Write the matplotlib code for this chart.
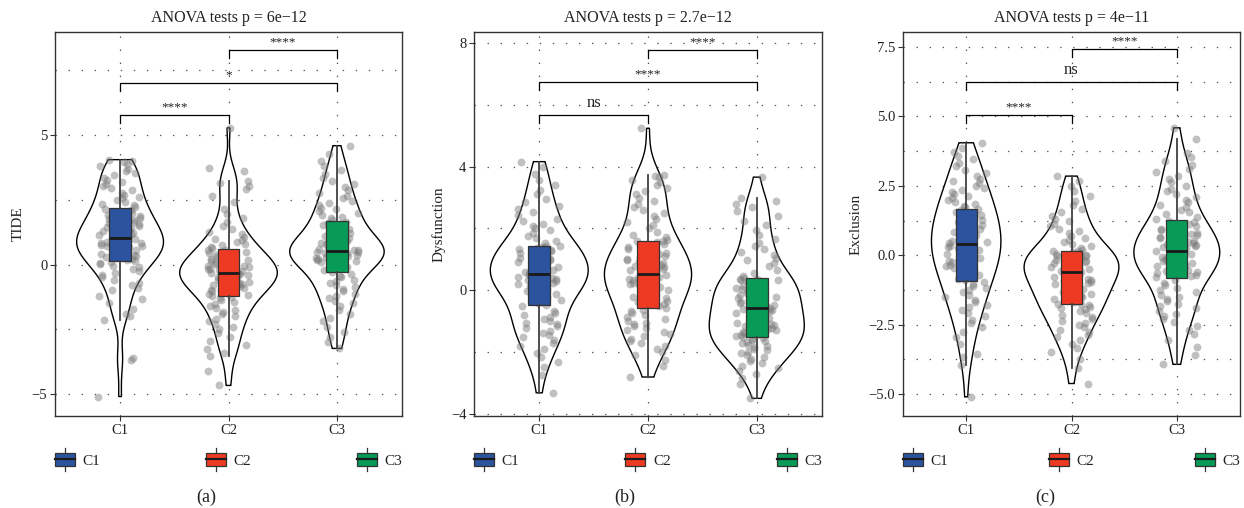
import numpy as np
import matplotlib
matplotlib.use("Agg")
import matplotlib.pyplot as plt
from matplotlib.patches import Rectangle, Patch
from matplotlib.lines import Line2D
from matplotlib.legend_handler import HandlerBase
from matplotlib.ticker import MultipleLocator, FuncFormatter
from matplotlib import cbook

plt.rcParams['font.family'] = ['Liberation Serif', 'DejaVu Serif']
plt.rcParams['lines.scale_dashes'] = False

groups = ["C1", "C2", "C3"]
colors = ["#2C539E", "#EE3A23", "#079B57"]

# ---- TIDE score per cluster ----
tide_c1 = [-5.1, -3.7, -3.6, -2.16, -2.0, -1.9, -1.7, -1.5, -1.35, -1.2,
           -1.0, -0.9, -0.8, -0.7, -0.6, -0.5, -0.42, -0.33, -0.25, -0.18,
           -0.1, -0.04, 0.02, 0.07, 0.1, 0.14, 0.18, 0.23, 0.28, 0.33,
           0.37, 0.41, 0.45, 0.49, 0.53, 0.57, 0.6, 0.63, 0.67, 0.7,
           0.73, 0.76, 0.79, 0.82, 0.85, 0.88, 0.91, 0.94, 0.97, 1.0,
           1.03, 1.07, 1.11, 1.15, 1.19, 1.23, 1.28, 1.32, 1.36, 1.4,
           1.45, 1.5, 1.55, 1.6, 1.65, 1.69, 1.73, 1.77, 1.81, 1.86,
           1.92, 1.98, 2.04, 2.1, 2.16, 2.22, 2.28, 2.35, 2.42, 2.48,
           2.55, 2.62, 2.7, 2.78, 2.86, 2.94, 3.02, 3.1, 3.18, 3.26,
           3.35, 3.45, 3.55, 3.62, 3.7, 3.8, 3.88, 3.95, 4.0, 4.05]
tide_c2 = [-4.67, -4.13, -3.55, -3.4, -3.25, -3.1, -2.95, -2.8, -2.65, -2.5,
           -2.4, -2.3, -2.2, -2.1, -2.0, -1.92, -1.84, -1.76, -1.68, -1.6,
           -1.52, -1.45, -1.38, -1.31, -1.25, -1.2, -1.16, -1.12, -1.07, -1.02,
           -0.98, -0.94, -0.9, -0.86, -0.82, -0.78, -0.74, -0.7, -0.66, -0.62,
           -0.59, -0.56, -0.53, -0.5, -0.47, -0.44, -0.41, -0.38, -0.35, -0.33,
           -0.31, -0.28, -0.25, -0.22, -0.19, -0.16, -0.13, -0.1, -0.07, -0.04,
           -0.01, 0.02, 0.05, 0.09, 0.13, 0.17, 0.21, 0.25, 0.3, 0.35,
           0.4, 0.45, 0.5, 0.55, 0.58, 0.62, 0.68, 0.74, 0.8, 0.86,
           0.93, 1.0, 1.08, 1.17, 1.27, 1.38, 1.5, 1.63, 1.78, 1.95,
           2.15, 2.4, 2.65, 2.9, 3.05, 3.15, 3.24, 3.6, 3.72, 5.28]
tide_c3 = [-3.24, -3.0, -2.8, -2.6, -2.4, -2.2, -2.05, -1.9, -1.75, -1.62,
           -1.5, -1.4, -1.3, -1.2, -1.12, -1.04, -0.96, -0.88, -0.8, -0.72,
           -0.65, -0.58, -0.5, -0.43, -0.36, -0.29, -0.23, -0.17, -0.11, -0.05,
           0.0, 0.04, 0.08, 0.12, 0.16, 0.2, 0.23, 0.26, 0.29, 0.32,
           0.34, 0.36, 0.38, 0.4, 0.42, 0.44, 0.46, 0.48, 0.5, 0.52,
           0.55, 0.58, 0.61, 0.64, 0.67, 0.7, 0.74, 0.78, 0.82, 0.86,
           0.9, 0.94, 0.98, 1.02, 1.06, 1.1, 1.15, 1.2, 1.26, 1.32,
           1.39, 1.46, 1.53, 1.6, 1.66, 1.72, 1.78, 1.85, 1.92, 1.99,
           2.06, 2.13, 2.2, 2.28, 2.36, 2.45, 2.55, 2.65, 2.75, 2.87,
           2.98, 3.1, 3.22, 3.35, 3.5, 3.65, 3.8, 3.98, 4.25, 4.59]

# ---- T cell dysfunction score per cluster ----
dysf_c1 = [-3.31, -2.72, -2.48, -2.3, -2.15, -2.02, -1.9, -1.79, -1.69, -1.6,
           -1.52, -1.44, -1.37, -1.3, -1.23, -1.16, -1.1, -1.04, -0.98, -0.92,
           -0.86, -0.8, -0.74, -0.68, -0.52, -0.46, -0.41, -0.36, -0.31, -0.22,
           -0.18, -0.13, -0.08, -0.03, 0.01, 0.05, 0.09, 0.13, 0.17, 0.21,
           0.25, 0.29, 0.33, 0.37, 0.4, 0.43, 0.46, 0.49, 0.51, 0.53,
           0.56, 0.59, 0.62, 0.66, 0.7, 0.73, 0.77, 0.81, 0.85, 0.89,
           0.93, 0.97, 1.01, 1.05, 1.09, 1.13, 1.17, 1.22, 1.27, 1.32,
           1.34, 1.36, 1.38, 1.4, 1.42, 1.45, 1.52, 1.6, 1.68, 1.76,
           1.87, 1.94, 2.01, 2.08, 2.16, 2.24, 2.32, 2.42, 2.52, 2.62,
           2.72, 2.84, 2.96, 3.1, 3.25, 3.4, 3.58, 3.75, 4.0, 4.16]
dysf_c2 = [-2.8, -2.45, -2.25, -2.1, -1.98, -1.88, -1.79, -1.71, -1.63, -1.56,
           -1.49, -1.42, -1.36, -1.29, -1.22, -1.16, -1.1, -1.04, -0.98, -0.92,
           -0.86, -0.8, -0.74, -0.68, -0.62, -0.56, -0.5, -0.44, -0.38, -0.33,
           -0.25, -0.2, -0.15, -0.1, -0.05, 0.0, 0.04, 0.08, 0.12, 0.16,
           0.2, 0.24, 0.28, 0.32, 0.36, 0.4, 0.43, 0.46, 0.49, 0.51,
           0.54, 0.58, 0.62, 0.66, 0.7, 0.74, 0.78, 0.82, 0.86, 0.9,
           0.94, 0.98, 1.02, 1.07, 1.12, 1.17, 1.22, 1.28, 1.34, 1.4,
           1.46, 1.51, 1.55, 1.58, 1.6, 1.64, 1.72, 1.8, 1.9, 2.0,
           2.1, 2.2, 2.3, 2.4, 2.5, 2.6, 2.7, 2.8, 2.9, 3.0,
           3.1, 3.2, 3.3, 3.4, 3.5, 3.58, 3.65, 3.7, 3.74, 5.24]
dysf_c3 = [-3.49, -3.02, -2.84, -2.71, -2.6, -2.51, -2.43, -2.35, -2.28, -2.21,
           -2.15, -2.09, -2.04, -1.99, -1.94, -1.89, -1.84, -1.79, -1.75, -1.71,
           -1.67, -1.63, -1.59, -1.56, -1.53, -1.5, -1.47, -1.44, -1.41, -1.38,
           -1.35, -1.32, -1.28, -1.24, -1.2, -1.16, -1.12, -1.08, -1.04, -1.0,
           -0.96, -0.92, -0.88, -0.84, -0.8, -0.76, -0.72, -0.68, -0.63, -0.6,
           -0.56, -0.52, -0.48, -0.44, -0.4, -0.36, -0.31, -0.26, -0.21, -0.16,
           -0.13, -0.09, -0.05, -0.01, 0.03, 0.08, 0.13, 0.18, 0.23, 0.27,
           0.3, 0.33, 0.35, 0.37, 0.38, 0.4, 0.48, 0.57, 0.67, 0.78,
           0.9, 0.98, 1.06, 1.15, 1.24, 1.33, 1.43, 1.54, 1.66, 1.8,
           1.95, 2.1, 2.25, 2.4, 2.55, 2.68, 2.8, 2.9, 2.99, 3.66]

# ---- T cell exclusion score per cluster ----
excl_c1 = [-5.1, -3.96, -3.65, -3.57, -3.2, -2.95, -2.75, -2.6, -2.45, -2.32,
           -2.2, -2.09, -1.98, -1.88, -1.78, -1.69, -1.6, -1.51, -1.42, -1.33,
           -1.25, -1.18, -1.11, -1.04, -0.97, -0.9, -0.84, -0.78, -0.71, -0.64,
           -0.58, -0.52, -0.46, -0.4, -0.34, -0.29, -0.24, -0.19, -0.14, -0.09,
           -0.04, 0.01, 0.06, 0.11, 0.16, 0.2, 0.25, 0.3, 0.35, 0.39,
           0.43, 0.48, 0.53, 0.58, 0.63, 0.68, 0.73, 0.78, 0.83, 0.88,
           0.93, 0.98, 1.03, 1.08, 1.13, 1.18, 1.23, 1.28, 1.34, 1.4,
           1.45, 1.51, 1.57, 1.62, 1.67, 1.72, 1.79, 1.86, 1.93, 2.0,
           2.07, 2.14, 2.21, 2.28, 2.35, 2.43, 2.51, 2.59, 2.67, 2.75,
           2.86, 2.97, 3.08, 3.2, 3.32, 3.45, 3.58, 3.72, 3.88, 4.05]
excl_c2 = [-4.62, -4.05, -3.72, -3.5, -3.33, -3.19, -3.07, -2.96, -2.86, -2.77,
           -2.68, -2.6, -2.52, -2.44, -2.36, -2.28, -2.21, -2.14, -2.07, -2.01,
           -1.95, -1.9, -1.85, -1.8, -1.77, -1.74, -1.69, -1.63, -1.57, -1.51,
           -1.46, -1.41, -1.36, -1.31, -1.26, -1.21, -1.17, -1.13, -1.09, -1.05,
           -1.01, -0.97, -0.93, -0.88, -0.84, -0.79, -0.74, -0.7, -0.65, -0.62,
           -0.6, -0.57, -0.54, -0.51, -0.48, -0.45, -0.42, -0.39, -0.35, -0.31,
           -0.27, -0.23, -0.2, -0.17, -0.13, -0.1, -0.07, -0.04, -0.01, 0.02,
           0.05, 0.08, 0.11, 0.14, 0.15, 0.2, 0.27, 0.34, 0.41, 0.48,
           0.55, 0.63, 0.71, 0.79, 0.87, 0.95, 1.04, 1.13, 1.22, 1.32,
           1.43, 1.55, 1.68, 1.82, 1.97, 2.13, 2.3, 2.48, 2.66, 2.85]
excl_c3 = [-3.93, -3.6, -3.3, -3.05, -2.85, -2.7, -2.55, -2.42, -2.3, -2.2,
           -2.1, -2.0, -1.91, -1.82, -1.74, -1.66, -1.58, -1.5, -1.42, -1.34,
           -1.26, -1.17, -1.08, -0.99, -0.88, -0.8, -0.76, -0.72, -0.68, -0.64,
           -0.6, -0.56, -0.52, -0.48, -0.44, -0.4, -0.36, -0.32, -0.28, -0.24,
           -0.21, -0.17, -0.13, -0.09, -0.05, -0.01, 0.03, 0.07, 0.11, 0.15,
           0.17, 0.21, 0.25, 0.29, 0.33, 0.37, 0.41, 0.45, 0.49, 0.53,
           0.57, 0.61, 0.65, 0.69, 0.73, 0.77, 0.81, 0.86, 0.91, 0.96,
           1.01, 1.07, 1.13, 1.19, 1.25, 1.31, 1.39, 1.47, 1.55, 1.63,
           1.72, 1.81, 1.9, 2.0, 2.1, 2.2, 2.3, 2.4, 2.5, 2.62,
           2.74, 2.86, 2.98, 3.1, 3.25, 3.4, 3.55, 3.68, 4.2, 4.59]

titles = ["ANOVA tests p = 6e\u221212", "ANOVA tests p = 2.7e\u221212",
          "ANOVA tests p = 4e\u221211"]
ylabels = ["TIDE", "Dysfunction", "Exclusion"]
tags = ["(a)", "(b)", "(c)"]

# pairwise comparisons: (group i, group j, label, bracket height)
comparisons = [
    [(1, 2, "****", 5.77), (1, 3, "*", 7.0), (2, 3, "****", 8.28)],
    [(1, 2, "ns", 5.68), (1, 3, "****", 6.74), (2, 3, "****", 7.77)],
    [(1, 2, "****", 5.05), (1, 3, "ns", 6.24), (2, 3, "****", 7.43)],
]

# ---- layout / style ----
W, H = 1244, 508
axes_px = [(55, 402), (474, 822), (903, 1240)]
top_px, bottom_px = 32, 416
ylims = [(-5.85, 8.98), (-4.06, 8.35), (-5.79, 8.04)]
major_steps = [5, 4, 2.5]
minor_steps = [2.5, 2, 1.25]
tick_fmt = ["{:g}", "{:g}", "{:.1f}"]
ylabel_x = [-0.086, -0.083, -0.119]
tag_x_px = [206, 625, 1045]

grid_style = dict(color="#555555", linewidth=0.9, linestyle=(0, (1.0, 8.4)))
edge = "#333333"


def nrd0(x):
    q75, q25 = np.percentile(x, [75, 25])
    lo = min(np.std(x, ddof=1), (q75 - q25) / 1.34)
    return 0.9 * lo * len(x) ** (-0.2)


def density(x, grid):
    bw = nrd0(x)
    z = (grid[:, None] - x[None, :]) / bw
    return np.exp(-0.5 * z ** 2).sum(axis=1) / (len(x) * bw * np.sqrt(2 * np.pi))


def jitter(n, k):
    i = np.arange(n)
    frac = np.modf(i * 0.6180339887 + i * i * 0.1414213562 + k * 0.271)[0]
    return 0.2 * (2 * frac - 1)


class BoxKey(HandlerBase):
    def create_artists(self, legend, orig_handle, xdescent, ydescent,
                       width, height, fontsize, trans):
        x0, y0 = -xdescent, -ydescent
        fc = orig_handle.get_facecolor()
        rect = Rectangle((x0, y0), width, height, facecolor=fc,
                         edgecolor=edge, linewidth=0.9, transform=trans)
        cx = x0 + width / 2
        stub = 0.32 * height
        top = Line2D([cx, cx], [y0 + height, y0 + height + stub], color=edge,
                     linewidth=0.9, transform=trans)
        bot = Line2D([cx, cx], [y0 - stub, y0], color=edge, linewidth=0.9,
                     transform=trans)
        med = Line2D([x0, x0 + width], [y0 + height / 2] * 2, color="#1a1a1a",
                     linewidth=1.6, transform=trans)
        return [rect, top, bot, med]


fig = plt.figure(figsize=(W / 100, H / 100), dpi=100)

datasets = [[tide_c1, tide_c2, tide_c3],
            [dysf_c1, dysf_c2, dysf_c3],
            [excl_c1, excl_c2, excl_c3]]

for p in range(3):
    l, r = axes_px[p]
    ax = fig.add_axes([l / W, 1 - bottom_px / H, (r - l) / W,
                       (bottom_px - top_px) / H])
    data = [np.asarray(d, dtype=float) for d in datasets[p]]
    pos = np.arange(1, len(groups) + 1)

    # violins scaled by area: common density scale across groups
    grids = [np.linspace(d.min(), d.max(), 512) for d in data]
    dens = [density(d, g) for d, g in zip(data, grids)]
    dmax = max(v.max() for v in dens)
    for k, (g, v) in enumerate(zip(grids, dens)):
        half = 0.45 * v / dmax
        xs = np.concatenate([pos[k] - half, (pos[k] + half)[::-1]])
        ys = np.concatenate([g, g[::-1]])
        ax.fill(xs, ys, facecolor="white", edgecolor="black", linewidth=1.0,
                zorder=2)

    # jittered points
    for k, d in enumerate(data):
        ax.scatter(pos[k] + jitter(len(d), k + 3 * p), d, s=32,
                   color="#7a7a7a", alpha=0.47, linewidths=0, zorder=3)

    # boxes
    for k, d in enumerate(data):
        st = cbook.boxplot_stats(d, whis=1.5)
        ax.bxp(st, positions=[pos[k]], widths=0.2, patch_artist=True,
               showfliers=False, showcaps=False,
               boxprops=dict(facecolor=colors[k], edgecolor=edge, linewidth=0.9),
               whiskerprops=dict(color="#404040", linewidth=1.3),
               medianprops=dict(color="#1a1a1a", linewidth=2.0),
               zorder=4)

    ymin, ymax = ylims[p]
    ax.set_xlim(0.4, 3.6)
    ax.set_ylim(ymin, ymax)
    ax.set_xticks(pos)
    ax.set_xticklabels(groups)
    ax.yaxis.set_major_locator(MultipleLocator(major_steps[p]))
    ax.yaxis.set_minor_locator(MultipleLocator(minor_steps[p]))
    fmt = tick_fmt[p]
    ax.yaxis.set_major_formatter(
        FuncFormatter(lambda v, _, f=fmt: f.format(v).replace("-", "\u2212")))
    ax.set_axisbelow(True)
    ax.grid(True, which="both", axis="y", **grid_style)
    ax.grid(True, which="major", axis="x", **grid_style)
    ax.tick_params(which="major", direction="out", length=3.5, width=0.8,
                   color=edge, labelsize=10.5, labelcolor="#222222", pad=2)
    ax.tick_params(which="minor", length=0)
    for s in ax.spines.values():
        s.set_color(edge)
        s.set_linewidth(1.0)

    ax.set_title(titles[p], fontsize=11.5, pad=7, color="#222222")
    ax.set_ylabel(ylabels[p], fontsize=11, color="#222222")
    ax.yaxis.set_label_coords(ylabel_x[p], 0.5)

    # significance brackets
    tip = 0.021 * (ymax - ymin)
    for i, j, lab, yb in comparisons[p]:
        ax.plot([i, i, j, j], [yb - tip, yb, yb, yb - tip], color="black",
                linewidth=0.9, zorder=5)
        if lab == "ns":
            ax.text((i + j) / 2, yb + 0.01 * (ymax - ymin), lab, ha="center",
                    va="bottom", fontsize=12, color="#222222", zorder=5)
        else:
            ax.text((i + j) / 2, yb + 0.005 * (ymax - ymin), lab, ha="center",
                    va="bottom", fontsize=9.5, color="#222222", zorder=5)

    handles = [Patch(facecolor=c) for c in colors]
    ax.legend(handles, groups, handler_map={Patch: BoxKey()}, ncol=3,
              mode="expand", loc="center", bbox_to_anchor=(0, -0.145, 1, 0.06),
              borderaxespad=0, borderpad=0, frameon=False, fontsize=11,
              handlelength=1.3, handleheight=1.0, handletextpad=0.5,
              labelcolor="#222222")

    fig.text(tag_x_px[p] / W, 1 - 497 / H, tags[p], ha="center", va="center",
             fontsize=13, color="#222222")

fig.savefig("out.png", dpi=100)
